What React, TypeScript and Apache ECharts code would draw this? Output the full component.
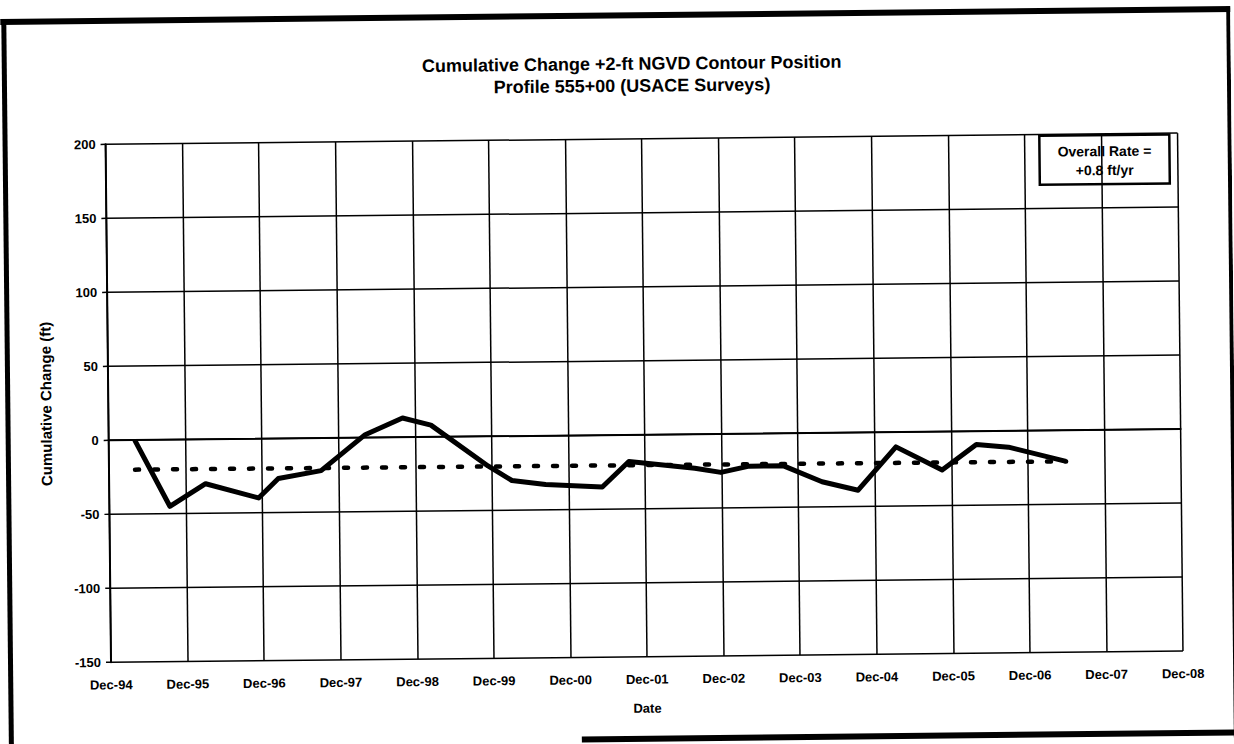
import React, { useEffect, useRef } from "react";
import * as echarts from "echarts";

// x = years after Dec-94
const xLabels = ["Dec-94","Dec-95","Dec-96","Dec-97","Dec-98","Dec-99","Dec-00","Dec-01","Dec-02","Dec-03","Dec-04","Dec-05","Dec-06","Dec-07","Dec-08"];
const yTicks = [-150, -100, -50, 0, 50, 100, 150, 200];

const surveyYears = [0.34, 0.79, 1.26, 1.95, 2.21, 2.77, 3.35, 3.84, 4.21, 4.95, 5.26, 5.70, 6.44, 6.79, 7.65, 7.99, 8.36, 8.81, 9.31, 9.78, 10.28, 10.88, 11.33, 11.75, 12.5];
const cumulativeChange = [0, -45, -30, -40, -27, -22, 2, 13, 8, -20, -30, -33, -35, -18, -23, -26, -22, -22, -33, -39, -10, -26, -9, -11, -21];

const trendYears = [0.34, 12.5];
const trendValues = [-20, -21];

const titleLines = ["Cumulative Change +2-ft NGVD Contour Position", "Profile 555+00 (USACE Surveys)"];
const rateLines = ["Overall Rate =", "+0.8 ft/yr"];

const FONT = "'Liberation Sans', Arial, sans-serif";

export default function App() {
  const ref = useRef<HTMLDivElement>(null);
  useEffect(() => {
    document.body.style.margin = "0";
    const chart = echarts.init(ref.current!, undefined, { renderer: "svg" });
    const grid = { left: 108, right: 54, top: 139, bottom: 87 };
    chart.setOption({
      animation: false,
      backgroundColor: "#ffffff",
      textStyle: { fontFamily: FONT },
      title: [
        {
          text: titleLines[0],
          left: 630,
          top: 50,
          textAlign: "center",
          textStyle: { fontFamily: FONT, fontSize: 18, fontWeight: "bold", color: "#000" },
        },
        {
          text: titleLines[1],
          left: 630,
          top: 72,
          textAlign: "center",
          textStyle: { fontFamily: FONT, fontSize: 18, fontWeight: "bold", color: "#000" },
        },
      ],
      grid: { ...grid, containLabel: false },
      xAxis: {
        type: "value",
        min: 0,
        max: 14,
        interval: 1,
        name: "Date",
        nameLocation: "middle",
        nameGap: 45,
        nameTextStyle: { fontFamily: FONT, fontSize: 13, fontWeight: "bold", color: "#000" },
        axisLine: { show: true, lineStyle: { color: "#000", width: 2 } },
        axisTick: { show: false },
        axisLabel: {
          color: "#000",
          fontSize: 13,
          fontWeight: "bold",
          fontFamily: FONT,
          margin: 16,
          formatter: (v: number) => xLabels[Math.round(v)] ?? "",
        },
        splitLine: { show: true, lineStyle: { color: "#000", width: 1.5 } },
      },
      yAxis: {
        type: "value",
        min: yTicks[0],
        max: yTicks[yTicks.length - 1],
        interval: 50,
        name: "Cumulative Change (ft)",
        nameLocation: "middle",
        nameGap: 55,
        nameTextStyle: { fontFamily: FONT, fontSize: 15, fontWeight: "bold", color: "#000" },
        axisLine: { show: true, lineStyle: { color: "#000", width: 2 } },
        axisTick: { show: true, length: 5, lineStyle: { color: "#000", width: 1.5 } },
        axisLabel: { color: "#000", fontSize: 13, fontWeight: "bold", fontFamily: FONT, margin: 10 },
        splitLine: { show: true, lineStyle: { color: "#000", width: 1.5 } },
      },
      series: [
        {
          type: "line",
          name: "Cumulative Change",
          data: surveyYears.map((x, i) => [x, cumulativeChange[i]]),
          showSymbol: false,
          lineStyle: { color: "#000", width: 5, join: "round" },
          z: 3,
        },
        {
          type: "line",
          name: "Trend",
          data: trendYears.map((x, i) => [x, trendValues[i]]),
          showSymbol: false,
          lineStyle: { color: "#000", width: 4.5, type: [4, 15], cap: "round" },
          z: 2,
        },
      ],
      graphic: [
        {
          type: "group",
          right: 61,
          top: 139,
          children: [
            { type: "rect", shape: { x: 0, y: 0, width: 130, height: 49 }, style: { fill: "#fff", stroke: "#000", lineWidth: 2.5 } },
            { type: "text", x: 65, y: 9, style: { text: rateLines[0], fill: "#000", font: `bold 14px ${FONT}`, textAlign: "center" } },
            { type: "text", x: 65, y: 28, style: { text: rateLines[1], fill: "#000", font: `bold 14px ${FONT}`, textAlign: "center" } },
          ],
        },
        { type: "line", shape: { x1: 4, y1: 15.5, x2: 1240, y2: 15.5 }, style: { stroke: "#000", lineWidth: 6 } },
        { type: "line", shape: { x1: 7.5, y1: 13, x2: 7.5, y2: 760 }, style: { stroke: "#000", lineWidth: 5 } },
        { type: "line", shape: { x1: 1232, y1: 13, x2: 1232, y2: 760 }, style: { stroke: "#000", lineWidth: 4 } },
        { type: "line", shape: { x1: 578, y1: 739, x2: 1240, y2: 739 }, style: { stroke: "#000", lineWidth: 6 } },
      ],
    });
    return () => chart.dispose();
  }, []);
  return (
    <div style={{ width: 1234, height: 744, overflow: "hidden", position: "relative", background: "#fff" }}>
      <div ref={ref} style={{ width: 1234, height: 744, transform: "rotate(-0.6deg)", transformOrigin: "50% 50%" }} />
    </div>
  );
}
